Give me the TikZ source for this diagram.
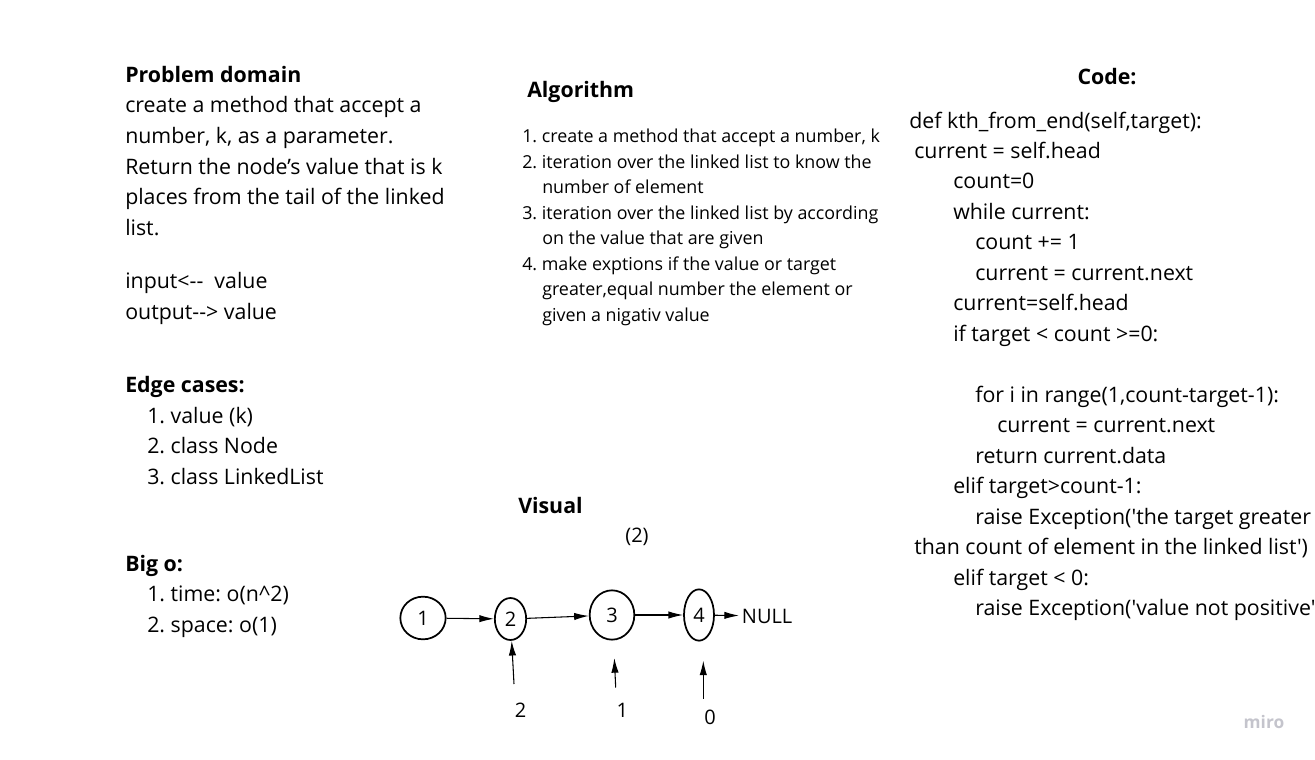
\documentclass[tikz,border=0pt]{standalone}
\usepackage{fontspec}
\setmainfont{Open Sans}[Ligatures=TeXOff]
\usetikzlibrary{shapes.geometric}
\usetikzlibrary{arrows.meta}
\definecolor{logogray}{RGB}{196,196,204}
\frenchspacing

\begin{document}
\begin{tikzpicture}[x=0.75pt,y=-0.75pt]
\tikzstyle{block} = [anchor=base west, align=left, inner sep=0pt, font=\fontsize{16}{23}\selectfont]
\tikzstyle{smallblock} = [anchor=base west, align=left, inner sep=0pt, font=\fontsize{13.4}{19.1}\selectfont]
\tikzstyle{title} = [anchor=base west, inner sep=0pt, font=\fontsize{16}{18}\selectfont\bfseries]
\tikzstyle{vertex} = [ellipse, draw=black, line width=1.3pt, inner sep=0pt, font=\fontsize{15}{18}\selectfont]
\tikzstyle{label} = [inner sep=0pt, font=\fontsize{15}{18}\selectfont]
\tikzstyle{edge} = [draw=black, line width=0.8pt, -{Latex[length=11pt,width=5.5pt]}]

\useasboundingbox (0,0) rectangle (1315,760);

% left column (base = last line)
\node[block] (domain) at (125,235.5) {\textbf{Problem domain}\\create a method that accept a\\number, k, as a parameter.\\Return the node’s value that is k\\places from the tail of the linked\\list.};
\node[block] (io) at (125,319.5) {input<--\ \ value\\output--> value};
\node[block] (edges) at (125,484.5) {\textbf{Edge cases:}\\\hspace*{16.5pt}1. value (k)\\\hspace*{16.5pt}2. class Node\\\hspace*{16.5pt}3. class LinkedList};
\node[block] (bigo) at (125,632.5) {\textbf{Big o:}\\\hspace*{16.5pt}1. time: o(n\textasciicircum2)\\\hspace*{16.5pt}2. space: o(1)};

% algorithm
\node[title] (algo) at (527,97.5) {Algorithm};
\node[smallblock] (steps) at (522,321) {1. create a method that accept a number, k\\2. iteration over the linked list to know the\\\hspace*{15pt}number of element\\3. iteration over the linked list by according\\\hspace*{15pt}on the value that are given\\4. make exptions if the value or target\\\hspace*{15pt}greater,equal number the element or\\\hspace*{15pt}given a nigativ value};

% code
\node[title, anchor=base] (codetitle) at (1107,84.5) {Code:};
\node[block, font=\fontsize{16}{22.85}\selectfont] (code) at (909,615.5) {def kth\_from\_end(self,target):\\
\hspace*{3.75pt}current = self.head\\
\hspace*{33pt}count=0\\
\hspace*{33pt}while current:\\
\hspace*{49.5pt}count += 1\\
\hspace*{49.5pt}current = current.next\\
\hspace*{33pt}current=self.head\\
\hspace*{33pt}if target < count >=0:\\
\mbox{}\\
\hspace*{49.5pt}for i in range(1,count-target-1):\\
\hspace*{66pt}current = current.next\\
\hspace*{49.5pt}return current.data\\
\hspace*{33pt}elif target>count-1:\\
\hspace*{49.5pt}raise Exception('the target greater\\
\hspace*{3.75pt}than count of element in the linked list')\\
\hspace*{33pt}elif target < 0:\\
\hspace*{49.5pt}raise Exception('value not positive'};

% visual
\node[title] (visual) at (518,513.5) {Visual};
\node[label] (pos) at (637,537) {(2)};

\node[vertex, minimum width=34pt, minimum height=32pt] (n1) at (423,618) {1};
\node[vertex, minimum width=23.5pt, minimum height=31.5pt] (n2) at (510.5,619) {2};
\node[vertex, minimum width=33.5pt, minimum height=37pt] (n3) at (612,615) {3};
\node[vertex, minimum width=22.5pt, minimum height=38.5pt] (n4) at (699,615) {4};
\node[label, anchor=west, inner sep=2pt] (null) at (739,616) {NULL};

\draw[edge] (n1) -- (n2);
\draw[edge] (n2) -- (n3);
\draw[edge] (n3) -- (n4);
\draw[edge] (n4) -- (null);

\coordinate (p2) at (514,684);
\coordinate (p3) at (615.7,687.5);
\coordinate (t3) at (614.3,658);
\coordinate (p4) at (703.3,698.5);
\coordinate (t4) at (703.3,660.5);
\draw[edge] (p2) -- (n2);
\draw[edge] (p3) -- (t3);
\draw[edge] (p4) -- (t4);

\node[label] (k2) at (520.7,710) {2};
\node[label] (k1) at (622.3,710) {1};
\node[label] (k0) at (710,717.7) {0};

\node[inner sep=0pt, text=logogray, font=\fontsize{13}{15}\selectfont\bfseries] (miro) at (1264,722) {miro};
\end{tikzpicture}
\end{document}
